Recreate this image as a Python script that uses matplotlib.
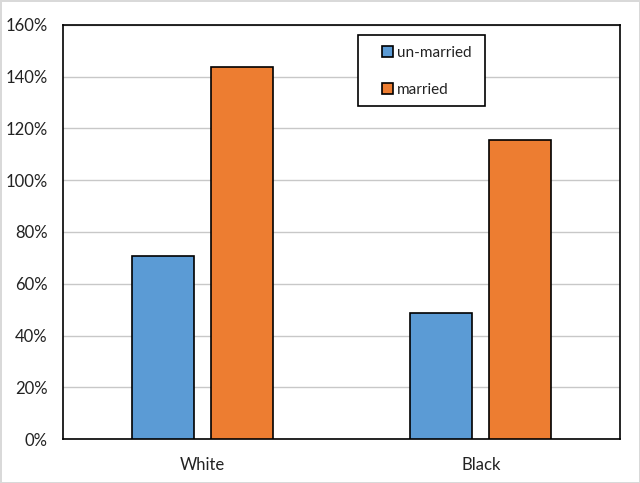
import matplotlib.pyplot as plt
import numpy as np
from matplotlib.patches import Rectangle
from matplotlib.ticker import PercentFormatter

groups = ["White", "Black"]
unmarried = [70.8, 48.7]
married = [143.9, 115.6]

plt.rcParams['font.family'] = ['Lato', 'DejaVu Sans']

fig = plt.figure(figsize=(6.4, 4.83), dpi=100)
fig.patch.set_edgecolor('#d9d9d9')
fig.patch.set_linewidth(2)
ax = fig.add_axes([63/640, 44/483, 557/640, 414/483])

x = np.arange(len(groups))
w = 0.223
off = 0.142
ax.bar(x - off, unmarried, w, color='#5b9bd5', edgecolor='black', linewidth=1.2, label='un-married', zorder=3)
ax.bar(x + off, married, w, color='#ed7d31', edgecolor='black', linewidth=1.2, label='married', zorder=3)

ax.set_xlim(-0.5, 1.5)
ax.set_ylim(0, 160)
ax.set_yticks(np.arange(0, 161, 20))
ax.yaxis.set_major_formatter(PercentFormatter(decimals=0))
ax.set_xticks(x)
ax.set_xticklabels(groups)
ax.tick_params(axis='both', length=0, labelsize=12, colors='#222222')
ax.tick_params(axis='y', pad=11)
ax.tick_params(axis='x', pad=13)
ax.grid(axis='y', color='#c8c8c8', linewidth=1, zorder=0)
for s in ax.spines.values():
    s.set_color('black')
    s.set_linewidth(1.2)

# legend box drawn separately so the padding can match
ax.add_patch(Rectangle((0.5296, 0.804), 0.228, 0.172, transform=ax.transAxes,
                       facecolor='white', edgecolor='black', linewidth=1.2, zorder=4))
leg = ax.legend(loc='center left', bbox_to_anchor=(0.572, 0.888), frameon=False,
                fontsize=11, handlelength=0.75, handleheight=0.75, handletextpad=0.25,
                labelspacing=1.5, borderpad=0, borderaxespad=0)
leg.set_zorder(5)
for t in leg.get_texts():
    t.set_color('#222222')

fig.savefig('out.png', dpi=100, edgecolor=fig.get_edgecolor())
